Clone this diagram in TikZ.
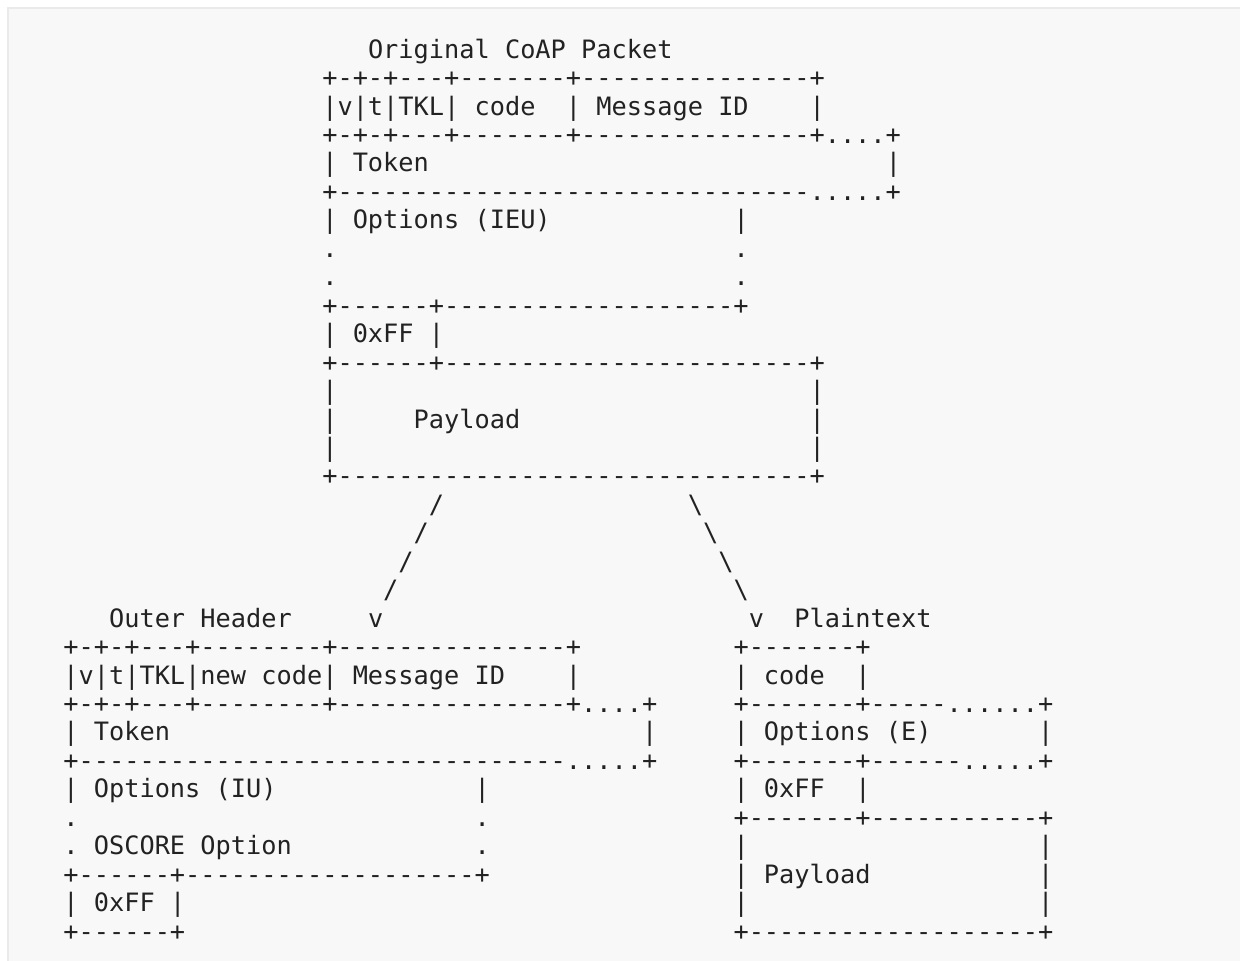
\documentclass[tikz,border=0pt]{standalone}
\usepackage{fontspec}
\setmonofont{DejaVu Sans Mono}
\definecolor{ink}{HTML}{222222}
\definecolor{bg}{HTML}{F8F8F8}
\definecolor{frame}{HTML}{EAEAEA}
\tikzset{txt/.style={anchor=base west, inner sep=0pt, outer sep=0pt, text=ink,
  font=\ttfamily\fontsize{18.97pt}{22pt}\selectfont}}
\newcommand\asc[3]{\node[txt] (n#1x#2) at ({63.4+15.23*#2},{58.15+28.45*#1}) {#3};}
\begin{document}
\begin{tikzpicture}[x=0.75pt,y=-0.75pt]
\useasboundingbox (0,0) rectangle (1240,961);
\clip (0,0) rectangle (1240,961);
\fill[white] (0,0) rectangle (1240,961);
\draw[frame, fill=bg, line width=1pt] (8,8) rectangle (1280,1000);
% top packet
\asc{0}{20}{Original CoAP Packet}
\asc{1}{17}{+-+-+---+-------+---------------+}
\asc{2}{17}{|v|t|TKL|}
\asc{2}{27}{code}
\asc{2}{33}{|}
\asc{2}{35}{Message ID}
\asc{2}{49}{|}
\asc{3}{17}{+-+-+---+-------+---------------+....+}
\asc{4}{17}{|}
\asc{4}{19}{Token}
\asc{4}{54}{|}
\asc{5}{17}{+-------------------------------.....+}
\asc{6}{17}{|}
\asc{6}{19}{Options (IEU)}
\asc{6}{44}{|}
\asc{7}{17}{.}
\asc{7}{44}{.}
\asc{8}{17}{.}
\asc{8}{44}{.}
\asc{9}{17}{+------+-------------------+}
\asc{10}{17}{|}
\asc{10}{19}{0xFF}
\asc{10}{24}{|}
\asc{11}{17}{+------+------------------------+}
\asc{12}{17}{|}
\asc{12}{49}{|}
\asc{13}{17}{|}
\asc{13}{23}{Payload}
\asc{13}{49}{|}
\asc{14}{17}{|}
\asc{14}{49}{|}
\asc{15}{17}{+-------------------------------+}
% branches
\asc{16}{24}{/}
\asc{16}{41}{\textbackslash}
\asc{17}{23}{/}
\asc{17}{42}{\textbackslash}
\asc{18}{22}{/}
\asc{18}{43}{\textbackslash}
\asc{19}{21}{/}
\asc{19}{44}{\textbackslash}
\asc{20}{3}{Outer Header}
\asc{20}{20}{v}
\asc{20}{45}{v}
\asc{20}{48}{Plaintext}
% outer header
\asc{21}{0}{+-+-+---+--------+---------------+}
\asc{22}{0}{|v|t|TKL|new code|}
\asc{22}{19}{Message ID}
\asc{22}{33}{|}
\asc{23}{0}{+-+-+---+--------+---------------+....+}
\asc{24}{0}{|}
\asc{24}{2}{Token}
\asc{24}{38}{|}
\asc{25}{0}{+--------------------------------.....+}
\asc{26}{0}{|}
\asc{26}{2}{Options (IU)}
\asc{26}{27}{|}
\asc{27}{0}{.}
\asc{27}{27}{.}
\asc{28}{0}{.}
\asc{28}{2}{OSCORE Option}
\asc{28}{27}{.}
\asc{29}{0}{+------+-------------------+}
\asc{30}{0}{|}
\asc{30}{2}{0xFF}
\asc{30}{7}{|}
\asc{31}{0}{+------+}
% plaintext
\asc{21}{44}{+-------+}
\asc{22}{44}{|}
\asc{22}{46}{code}
\asc{22}{52}{|}
\asc{23}{44}{+-------+-----......+}
\asc{24}{44}{|}
\asc{24}{46}{Options (E)}
\asc{24}{64}{|}
\asc{25}{44}{+-------+------.....+}
\asc{26}{44}{|}
\asc{26}{46}{0xFF}
\asc{26}{52}{|}
\asc{27}{44}{+-------+-----------+}
\asc{28}{44}{|}
\asc{28}{64}{|}
\asc{29}{44}{|}
\asc{29}{46}{Payload}
\asc{29}{64}{|}
\asc{30}{44}{|}
\asc{30}{64}{|}
\asc{31}{44}{+-------------------+}
\end{tikzpicture}
\end{document}
